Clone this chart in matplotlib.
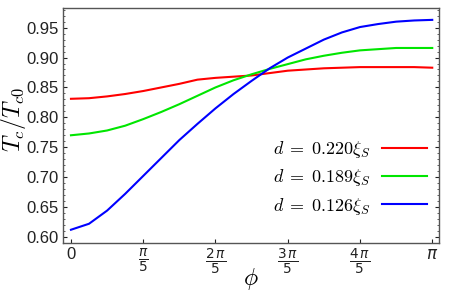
import numpy as np
import matplotlib
matplotlib.use("Agg")
import matplotlib.pyplot as plt
from matplotlib.ticker import MultipleLocator

plt.rcParams['mathtext.fontset'] = 'cm'
plt.rcParams['font.family'] = ['Liberation Sans', 'DejaVu Sans']

phi_steps = np.arange(21)  # phi = k*pi/20
red = [0.831, 0.832, 0.835, 0.839, 0.844, 0.850, 0.856, 0.863, 0.866, 0.868, 0.870,
       0.874, 0.878, 0.880, 0.882, 0.883, 0.884, 0.884, 0.884, 0.884, 0.883]
green = [0.770, 0.773, 0.778, 0.786, 0.797, 0.809, 0.822, 0.836, 0.850, 0.862, 0.872,
         0.881, 0.889, 0.897, 0.903, 0.908, 0.912, 0.914, 0.916, 0.916, 0.916]
blue = [0.612, 0.622, 0.644, 0.672, 0.702, 0.732, 0.762, 0.789, 0.815, 0.839, 0.861,
        0.882, 0.900, 0.915, 0.930, 0.942, 0.951, 0.956, 0.960, 0.962, 0.963]
labels = [r"$d\;=\;0.220\xi_S$", r"$d\;=\;0.189\xi_S$", r"$d\;=\;0.126\xi_S$"]
colors = ["#ff0000", "#00e600", "#0000ff"]
xtick_labels = ["0", r"$\frac{\pi}{5}$", r"$\frac{2\,\pi}{5}$", r"$\frac{3\,\pi}{5}$",
                r"$\frac{4\,\pi}{5}$", r"$\pi$"]

phi = phi_steps * np.pi / 20

fig = plt.figure(figsize=(4.63, 2.93), dpi=100)
ax = fig.add_axes([0.136, 0.171, 0.812, 0.802])
for y, c, l in zip([red, green, blue], colors, labels):
    ax.plot(phi, y, color=c, lw=1.5, label=l)

ax.set_xlim(-0.0695, np.pi + 0.058)
ax.set_ylim(0.590, 0.983)
ax.set_xticks(np.arange(6) * np.pi / 5)
ax.set_xticklabels(xtick_labels)
ax.set_yticks(np.arange(0.60, 0.951, 0.05))
ax.set_yticklabels([f"{v:.2f}" for v in np.arange(0.60, 0.951, 0.05)])
ax.yaxis.set_minor_locator(MultipleLocator(0.01))
ax.tick_params(which='both', direction='in', top=False, right=True, color='#444444')
ax.tick_params(which='major', length=3, colors='#222222')
ax.tick_params(axis='y', labelsize=12, pad=3)
ax.tick_params(axis='x', pad=3)
ax.tick_params(which='minor', length=1.5)
for i, t in enumerate(ax.get_xticklabels()):
    t.set_math_fontfamily('dejavusans')
    t.set_fontsize(14 if 0 < i < 5 else 12)
for s in ax.spines.values():
    s.set_color('#555555')
    s.set_linewidth(1.0)

ax.set_ylabel(r"$T_c/T_{c0}$", fontsize=17)
ax.yaxis.set_label_coords(-0.093, 0.523)
ax.set_xlabel(r"$\phi$", fontsize=17)
ax.xaxis.set_label_coords(0.5, -0.10)

leg = ax.legend(loc='center right', bbox_to_anchor=(0.968, 0.277), frameon=False,
                markerfirst=False, handlelength=2.5, fontsize=13, labelspacing=0.4,
                handletextpad=0.6, borderpad=0, borderaxespad=0)

fig.savefig("out.png", dpi=100)
